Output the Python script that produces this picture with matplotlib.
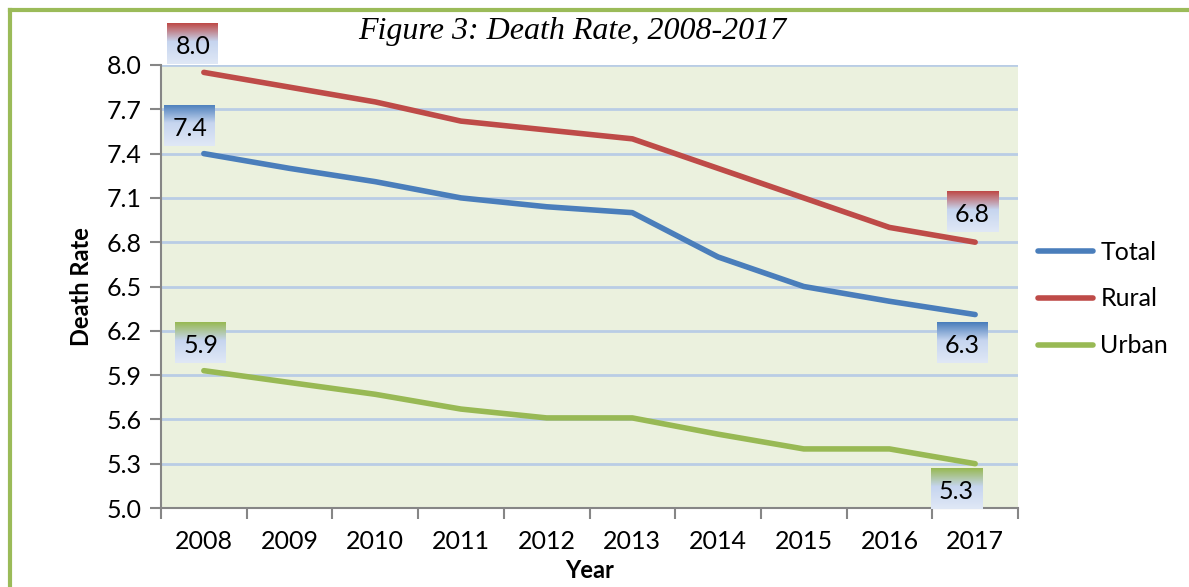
import matplotlib.pyplot as plt
import matplotlib.colors as mcolors
import numpy as np

years = [2008, 2009, 2010, 2011, 2012, 2013, 2014, 2015, 2016, 2017]
total = [7.40, 7.30, 7.21, 7.10, 7.04, 7.00, 6.70, 6.50, 6.40, 6.31]
rural = [7.95, 7.85, 7.75, 7.62, 7.56, 7.50, 7.30, 7.10, 6.90, 6.80]
urban = [5.93, 5.85, 5.77, 5.67, 5.61, 5.61, 5.50, 5.40, 5.40, 5.30]
y_ticks = [5.0, 5.3, 5.6, 5.9, 6.2, 6.5, 6.8, 7.1, 7.4, 7.7, 8.0]

colors = {'Total': '#4a7ebb', 'Rural': '#be4b48', 'Urban': '#98b954'}
series = {'Total': total, 'Rural': rural, 'Urban': urban}

# end-point labels: (series, index, text, pixel offset of box centre from the point)
point_labels = [
    ('Rural', 0, '8.0', (-11, 29)),
    ('Total', 0, '7.4', (-14, 28)),
    ('Urban', 0, '5.9', (-3, 28)),
    ('Rural', -1, '6.8', (-3, 31)),
    ('Total', -1, '6.3', (-13, -28)),
    ('Urban', -1, '5.3', (-19, -25)),
]

plt.rcParams['font.family'] = ['Lato', 'DejaVu Sans']

W, H = 1189, 587
fig = plt.figure(figsize=(W / 100, H / 100), dpi=100)

# green frame (top and left edges only visible)
fig.add_artist(plt.Line2D([9.5 / W, 1], [1 - 9.5 / H, 1 - 9.5 / H], color='#9bbb59', lw=3))
fig.add_artist(plt.Line2D([9.5 / W, 9.5 / W], [0, 1 - 9.5 / H], color='#9bbb59', lw=3))

ax = fig.add_axes([161 / W, (H - 508) / H, 857 / W, 443 / H])
ax.set_facecolor('#ebf1de')

for name in ['Total', 'Rural', 'Urban']:
    ax.plot(years, series[name], color=colors[name], lw=4, solid_capstyle='round', label=name, zorder=3)

ax.set_xlim(2007.5, 2017.5)
ax.set_ylim(5.0, 8.0)
ax.set_yticks(y_ticks)
ax.set_yticklabels([f'{v:.1f}' for v in y_ticks], fontsize=18)
ax.grid(axis='y', color='#b9cde5', lw=2)
ax.set_axisbelow(True)

ax.set_xticks(years)
ax.set_xticklabels([str(y) for y in years], fontsize=18)
ax.set_xticks(np.arange(2007.5, 2018, 1), minor=True)
ax.tick_params(axis='x', which='major', length=0, pad=16)
ax.tick_params(axis='x', which='minor', length=8, width=1.5, color='#868686')
ax.tick_params(axis='y', length=8, width=1.5, color='#868686', pad=6)

for s in ['top', 'right']:
    ax.spines[s].set_visible(False)
for s in ['left', 'bottom']:
    ax.spines[s].set_color('#868686')
    ax.spines[s].set_linewidth(1.5)

ax.set_ylabel('Death Rate', fontsize=17, fontweight='bold', labelpad=10)
ax.set_xlabel('Year', fontsize=17, fontweight='bold', labelpad=4)

fig.text(572 / W, 1 - 32 / H, 'Figure 3: Death Rate, 2008-2017', ha='center', va='center',
         fontsize=23, style='italic', family='Liberation Serif')

ax.legend(loc='center left', bbox_to_anchor=(0.997, (508 - 299) / 443), frameon=False, fontsize=18,
          handlelength=2.2, handletextpad=0.3, labelspacing=0.95)

# gradient label boxes
fig.canvas.draw()
bw, bh = 51, 41
for name, idx, txt, (dx, dy) in point_labels:
    px, py = ax.transData.transform((years[idx], series[name][idx]))
    cx, cy = px + dx, py + dy
    top = np.array(mcolors.to_rgb(colors[name]))
    mid = np.array(mcolors.to_rgb('#c6d5ef'))
    bot = np.array(mcolors.to_rgb('#e0e8f6'))
    t = np.linspace(0, 1, 50)[:, None]
    grad = np.where(t < 0.45, top + (mid - top) * (t / 0.45), mid + (bot - mid) * ((t - 0.45) / 0.55))
    grad = grad[:, None, :]
    bax = fig.add_axes([(cx - bw / 2) / W, (cy - bh / 2) / H, bw / W, bh / H])
    bax.imshow(grad, aspect='auto', extent=[0, 1, 0, 1], origin='upper')
    bax.axis('off')
    bax.text(0.5, 0.42, txt, ha='center', va='center', fontsize=18, transform=bax.transAxes)

fig.savefig('out.png', dpi=100)
